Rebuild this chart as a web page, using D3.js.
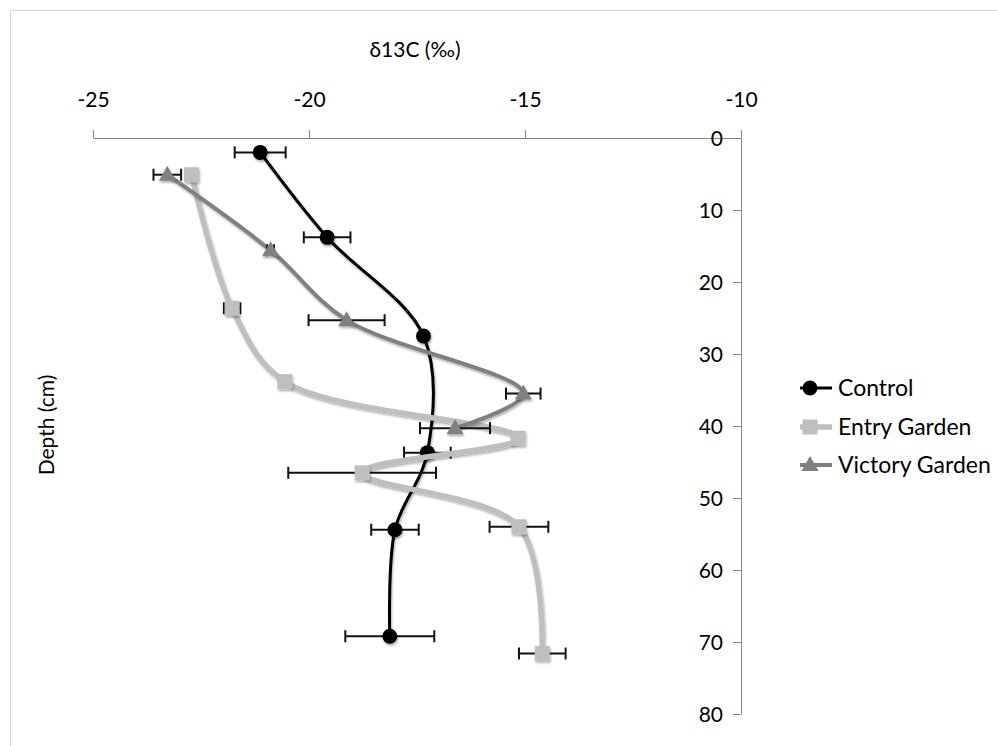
<!DOCTYPE html>
<html><head><meta charset="utf-8">
<script src="https://cdn.jsdelivr.net/npm/d3@7"></script>
<style>
html,body{margin:0;padding:0;background:#fff;}
svg{display:block;font-family:Lato, "Open Sans", sans-serif;}
</style></head>
<body>
<script>
// ---- data ----
const seriesNames = ["Control", "Entry Garden", "Victory Garden"];
const xTicks = [-25, -20, -15, -10];
const yTicks = [0, 10, 20, 30, 40, 50, 60, 70, 80];

const controlDepth = [2, 13.8, 27.5, 43.7, 54.4, 69.2];
const controlD13C  = [-21.13, -19.58, -17.35, -17.26, -18.01, -18.13];
const controlErr   = [0.59, 0.54, 0.08, 0.54, 0.55, 1.03];

const entryDepth = [5.1, 23.65, 33.85, 41.7, 46.5, 54.0, 71.6];
const entryD13C  = [-22.72, -21.78, -20.56, -15.16, -18.77, -15.14, -14.60];
const entryErr   = [0.1, 0.19, 0.1, 0.1, 1.71, 0.68, 0.54];

const victoryDepth = [5.1, 15.6, 25.3, 35.5, 40.3];
const victoryD13C  = [-23.28, -20.89, -19.13, -15.04, -16.62];
const victoryErr   = [0.32, 0.08, 0.88, 0.40, 0.81];

const W = 997, H = 746;
const svg = d3.select("body").append("svg").attr("width", W).attr("height", H);

const defs = svg.append("defs");
const f = defs.append("filter").attr("id","sh").attr("x","-50%").attr("y","-50%").attr("width","200%").attr("height","200%");
f.append("feDropShadow").attr("dx",1).attr("dy",2).attr("stdDeviation",1).attr("flood-color","#000").attr("flood-opacity",0.3);

// frame
svg.append("rect").attr("x",10.5).attr("y",10.5).attr("width",1000).attr("height",1000)
  .attr("fill","none").attr("stroke","#d9d9d9").attr("stroke-width",1);

const x = d3.scaleLinear().domain([-25, -10]).range([93, 741]);
const y = d3.scaleLinear().domain([0, 80]).range([138, 714]);

// top axis
const gx = svg.append("g").attr("transform", `translate(0,${y(0)})`)
  .call(d3.axisTop(x).tickValues(xTicks).tickSize(8).tickSizeOuter(0).tickPadding(23).tickFormat(d => String(d)));
// right-side vertical axis with labels on left
const gy = svg.append("g").attr("transform", `translate(${x(-10)},0)`)
  .call(d3.axisLeft(y).tickValues(yTicks).tickSize(8).tickSizeOuter(0).tickPadding(10).tickFormat(d => String(d)));
[gx, gy].forEach(g => {
  g.select(".domain").attr("stroke", "#868686").attr("stroke-width", 1);
  g.selectAll(".tick line").attr("stroke", "#868686");
  g.selectAll(".tick text").attr("fill", "#000").style("font-size", "21px").style("font-family", "Lato");
});
gy.selectAll(".tick text").attr("dy", "0.35em");

// titles
svg.append("text").attr("x", 415).attr("y", 57).attr("text-anchor", "middle")
  .style("font-size", "21px").text("δ13C (‰)");
svg.append("text").attr("transform", "translate(54,425) rotate(-90)").attr("text-anchor", "middle")
  .style("font-size", "21px").text("Depth (cm)");

const series = [
  {name: seriesNames[0], depth: controlDepth, val: controlD13C, err: controlErr, color: "#000000", width: 3, shape: "circle"},
  {name: seriesNames[1], depth: entryDepth, val: entryD13C, err: entryErr, color: "#bfbfbf", width: 5.5, shape: "square"},
  {name: seriesNames[2], depth: victoryDepth, val: victoryD13C, err: victoryErr, color: "#808080", width: 4, shape: "triangle"}
];

const line = d3.line().x(d => x(d.v)).y(d => y(d.d)).curve(d3.curveCatmullRom.alpha(0.5));

function marker(g, shape, color, cx, cy) {
  if (shape === "circle") g.append("circle").attr("cx", cx).attr("cy", cy).attr("r", 7.5).attr("fill", color);
  else if (shape === "square") g.append("rect").attr("x", cx - 7.5).attr("y", cy - 7.5).attr("width", 15).attr("height", 15).attr("fill", color);
  else g.append("path").attr("d", `M${cx},${cy-9}L${cx+8.5},${cy+6}L${cx-8.5},${cy+6}Z`).attr("fill", color);
}

series.forEach(s => {
  const pts = s.depth.map((d, i) => ({d, v: s.val[i], e: s.err[i]}));
  const g = svg.append("g");
  g.append("path").attr("d", line(pts)).attr("fill", "none").attr("stroke", s.color)
    .attr("stroke-width", s.width).attr("filter", "url(#sh)");
  const eg = g.append("g").attr("stroke", "#111").attr("stroke-width", 2);
  pts.forEach(p => {
    const yy = y(p.d), x1 = x(p.v - p.e), x2 = x(p.v + p.e);
    eg.append("line").attr("x1", x1).attr("x2", x2).attr("y1", yy).attr("y2", yy);
    eg.append("line").attr("x1", x1).attr("x2", x1).attr("y1", yy - 6).attr("y2", yy + 6);
    eg.append("line").attr("x1", x2).attr("x2", x2).attr("y1", yy - 6).attr("y2", yy + 6);
  });
  const mg = g.append("g").attr("filter", "url(#sh)");
  pts.forEach(p => marker(mg, s.shape, s.color, x(p.v), y(p.d)));
});

// legend
const legY = [388, 427, 465];
series.forEach((s, i) => {
  const g = svg.append("g");
  g.append("line").attr("x1", 800).attr("x2", 832).attr("y1", legY[i]).attr("y2", legY[i])
    .attr("stroke", s.color).attr("stroke-width", s.width);
  marker(g, s.shape, s.color, 810, legY[i]);
  g.append("text").attr("x", 838).attr("y", legY[i]).attr("dy", "0.36em")
    .style("font-size", "23px").text(s.name);
});
</script>
</body></html>
